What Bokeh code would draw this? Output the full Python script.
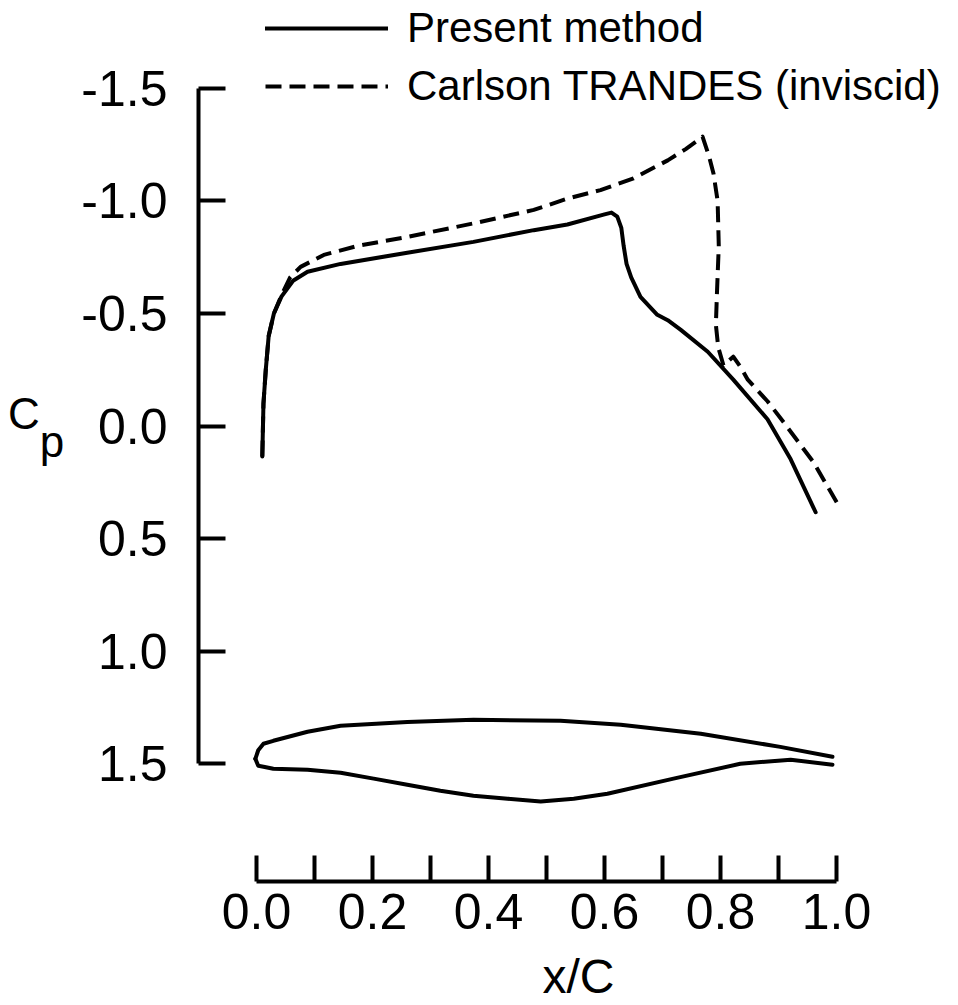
from bokeh.plotting import figure
from bokeh.models import (Range1d, FixedTicker, LinearAxis, Legend, LegendItem,
                          NumeralTickFormatter)
from bokeh.embed import file_html
from bokeh.resources import INLINE

# ---- data ----
present_x = [0.010, 0.012, 0.016, 0.021, 0.030, 0.043, 0.063, 0.088, 0.145, 0.26,
             0.374, 0.478, 0.536, 0.600, 0.612, 0.622, 0.629, 0.633, 0.638, 0.646,
             0.662, 0.691, 0.709, 0.731, 0.778, 0.822, 0.881, 0.921, 0.964]
present_cp = [0.135, -0.10, -0.25, -0.40, -0.50, -0.575, -0.645, -0.685, -0.72, -0.77,
              -0.818, -0.87, -0.895, -0.94, -0.948, -0.93, -0.88, -0.80, -0.72, -0.66,
              -0.574, -0.494, -0.47, -0.428, -0.33, -0.206, -0.03, 0.148, 0.383]

carlson_x = [0.010, 0.012, 0.016, 0.021, 0.030, 0.043, 0.058, 0.076, 0.116, 0.174,
             0.26, 0.374, 0.478, 0.536, 0.593, 0.65, 0.709, 0.74, 0.769, 0.780,
             0.788, 0.795, 0.797, 0.794, 0.792, 0.796, 0.805, 0.822, 0.834, 0.847,
             0.881, 0.909, 0.960, 1.003]
carlson_cp = [0.135, -0.10, -0.25, -0.40, -0.50, -0.58, -0.66, -0.707, -0.76, -0.80,
              -0.84, -0.90, -0.96, -1.01, -1.048, -1.10, -1.18, -1.23, -1.285, -1.20,
              -1.12, -1.00, -0.80, -0.60, -0.45, -0.35, -0.27, -0.308, -0.264, -0.206,
              -0.11, -0.016, 0.16, 0.35]

airfoil_upper_x = [-0.002, 0.003, 0.012, 0.029, 0.088, 0.145, 0.26, 0.374, 0.524,
                   0.628, 0.766, 0.903, 0.993]
airfoil_upper_y = [1.478, 1.440, 1.411, 1.398, 1.358, 1.331, 1.314, 1.305, 1.309,
                   1.327, 1.367, 1.425, 1.469]
airfoil_lower_x = [-0.002, 0.003, 0.012, 0.029, 0.088, 0.145, 0.202, 0.26, 0.317,
                   0.374, 0.433, 0.49, 0.547, 0.605, 0.719, 0.834, 0.921, 0.993]
airfoil_lower_y = [1.478, 1.509, 1.513, 1.522, 1.527, 1.540, 1.566, 1.593, 1.620,
                   1.642, 1.655, 1.668, 1.655, 1.633, 1.566, 1.500, 1.482, 1.504]

y_ticks = [-1.5, -1.0, -0.5, 0.0, 0.5, 1.0, 1.5]
x_major_ticks = [0.0, 0.2, 0.4, 0.6, 0.8, 1.0]
x_minor_ticks = [0.1, 0.3, 0.5, 0.7, 0.9]

legend_labels = ["Present method", "Carlson TRANDES (inviscid)"]
x_label = "x/C"
y_label_main = "C"
y_label_sub = "p"

FONT = "Liberation Sans"
NB = "\u00a0"

p = figure(width=958, height=1005,
           x_range=Range1d(-0.1, 1.2103), y_range=Range1d(2.0229, -1.89),
           output_backend="svg", toolbar_location=None,
           x_axis_location=None, y_axis_location=None,
           min_border_left=198, min_border_right=0,
           min_border_top=0, min_border_bottom=122)
p.outline_line_color = None
p.background_fill_color = "white"
p.border_fill_color = "white"
p.grid.visible = False

# y axis (ticks + tick labels + C_p label)
yaxis = LinearAxis(bounds=(-1.5, 1.5), ticker=FixedTicker(ticks=y_ticks),
                   formatter=NumeralTickFormatter(format="0.0"))
yaxis.axis_line_width = 4
yaxis.axis_line_color = "black"
yaxis.major_tick_line_width = 4
yaxis.major_tick_line_color = "black"
yaxis.major_tick_in = 27
yaxis.major_tick_out = 0
yaxis.minor_tick_line_color = None
yaxis.major_label_standoff = 31
yaxis.major_label_text_font = FONT
yaxis.major_label_text_font_size = "50px"
yaxis.major_label_text_color = "black"
yaxis.axis_label = y_label_main + NB * 2 + "\n" + NB * 3 + y_label_sub + "\n" + NB
yaxis.axis_label_orientation = "horizontal"
yaxis.axis_label_standoff = 14
yaxis.axis_label_text_font = FONT
yaxis.axis_label_text_font_size = "44px"
yaxis.axis_label_text_line_height = 0.57
yaxis.axis_label_text_font_style = "normal"
yaxis.axis_label_text_color = "black"
p.add_layout(yaxis, "left")

# x axis
xaxis = LinearAxis(bounds=(0, 1),
                   ticker=FixedTicker(ticks=x_major_ticks, minor_ticks=x_minor_ticks),
                   formatter=NumeralTickFormatter(format="0.0"))
xaxis.axis_line_width = 4
xaxis.axis_line_color = "black"
xaxis.major_tick_line_width = 4
xaxis.major_tick_line_color = "black"
xaxis.major_tick_in = 26
xaxis.major_tick_out = 0
xaxis.minor_tick_line_width = 4
xaxis.minor_tick_line_color = "black"
xaxis.minor_tick_in = 26
xaxis.minor_tick_out = 0
xaxis.major_label_standoff = 12
xaxis.major_label_text_font = FONT
xaxis.major_label_text_font_size = "50px"
xaxis.major_label_text_color = "black"
xaxis.axis_label = x_label
xaxis.axis_label_standoff = 18
xaxis.axis_label_text_font = FONT
xaxis.axis_label_text_font_size = "48px"
xaxis.axis_label_text_font_style = "normal"
xaxis.axis_label_text_color = "black"
p.add_layout(xaxis, "below")

# curves
r_present = p.line(present_x, present_cp, line_color="black", line_width=4,
                   line_join="round", line_cap="round")
r_carlson = p.line(carlson_x, carlson_cp, line_color="black", line_width=4,
                   line_dash="16 8", line_join="round")
p.line(airfoil_upper_x, airfoil_upper_y, line_color="black", line_width=4,
       line_join="round", line_cap="round")
p.line(airfoil_lower_x, airfoil_lower_y, line_color="black", line_width=4,
       line_join="round", line_cap="round")

legend = Legend(items=[LegendItem(label=legend_labels[0], renderers=[r_present]),
                       LegendItem(label=legend_labels[1], renderers=[r_carlson])],
                location=(67, 771), glyph_width=123, glyph_height=48,
                label_height=48, label_standoff=19, spacing=10, padding=0,
                margin=0, border_line_color=None, background_fill_alpha=0,
                label_text_font=FONT, label_text_font_size="42px",
                label_text_color="black")
p.add_layout(legend)

open("out.html", "w").write(file_html(p, INLINE))
